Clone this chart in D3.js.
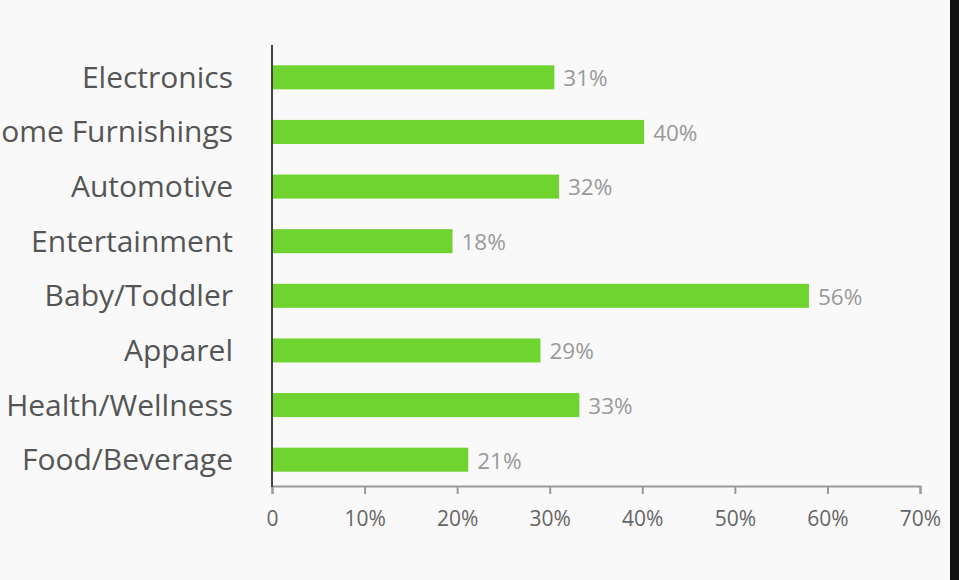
<!DOCTYPE html>
<html>
<head>
<meta charset="utf-8">
<script src="https://cdn.jsdelivr.net/npm/d3@7"></script>
<style>
  html, body { margin: 0; padding: 0; background: #f9f9f9; overflow: hidden; }
  svg { display: block; }
</style>
</head>
<body>
<svg id="chart"></svg>
<script>
// categories, top to bottom
const categories = ["Electronics", "Home Furnishings", "Automotive", "Entertainment",
  "Baby/Toddler", "Apparel", "Health/Wellness", "Food/Beverage"];
// bar lengths as drawn in the picture (percent)
const barValues = [30.5, 40.2, 31.0, 19.5, 58.0, 29.0, 33.2, 21.2];
// printed value labels
const valueLabels = ["31%", "40%", "32%", "18%", "56%", "29%", "33%", "21%"];
const xTicks = [0, 10, 20, 30, 40, 50, 60, 70];

const width = 959, height = 580;
const svg = d3.select("#chart").attr("width", width).attr("height", height);

svg.append("rect").attr("width", width).attr("height", height).attr("fill", "#f9f9f9");
// dark strip on the right edge
svg.append("rect").attr("x", 950).attr("y", 0).attr("width", 9).attr("height", height).attr("fill", "#111");

const x = d3.scaleLinear().domain([0, 70]).range([272, 920]);
const y = d3.scaleBand().domain(categories).range([50, 487]).paddingInner(0.56).paddingOuter(0.28);

// bars
svg.selectAll(".bar")
  .data(categories)
  .enter().append("rect")
  .attr("class", "bar")
  .attr("x", x(0))
  .attr("y", d => y(d))
  .attr("width", (d, i) => x(barValues[i]) - x(0))
  .attr("height", y.bandwidth())
  .attr("fill", "#6fd42f");

// value labels
svg.selectAll(".val")
  .data(categories)
  .enter().append("text")
  .attr("x", (d, i) => x(barValues[i]) + 9)
  .attr("y", d => y(d) + y.bandwidth() / 2 + 1)
  .attr("dy", "0.35em")
  .attr("font-family", "Open Sans")
  .attr("font-size", 22.5)
  .attr("fill", "#9a9a9a")
  .text((d, i) => valueLabels[i]);

// category labels
svg.selectAll(".cat")
  .data(categories)
  .enter().append("text")
  .attr("x", 233)
  .attr("y", d => y(d) + y.bandwidth() / 2)
  .attr("dy", "0.35em")
  .attr("text-anchor", "end")
  .attr("font-family", "Open Sans")
  .attr("font-size", 30)
  .attr("fill", "#555")
  .text(d => d);

// x axis
const xAxis = svg.append("g")
  .attr("transform", "translate(0,486)")
  .call(d3.axisBottom(x).tickValues(xTicks).tickSize(8).tickPadding(17)
    .tickFormat(d => d === 0 ? "0" : d + "%"));
xAxis.select(".domain").attr("stroke", "#999").attr("stroke-width", 2);
xAxis.selectAll(".tick line").attr("stroke", "#999").attr("stroke-width", 2);
xAxis.selectAll(".tick text")
  .attr("font-family", "Open Sans")
  .attr("font-size", 21)
  .attr("fill", "#666");

// y axis line
svg.append("line")
  .attr("x1", x(0)).attr("x2", x(0))
  .attr("y1", 45).attr("y2", 487)
  .attr("stroke", "#444").attr("stroke-width", 2);
</script>
</body>
</html>
